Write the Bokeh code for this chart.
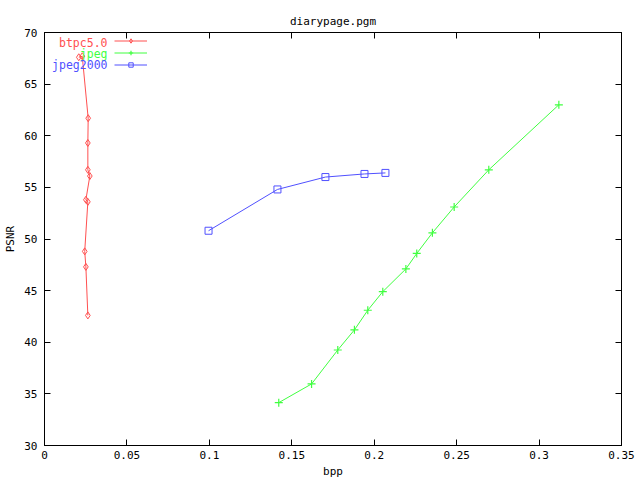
from bokeh.plotting import figure
from bokeh.models import (LinearAxis, FixedTicker, CustomJSTickFormatter, Label,
                          Legend, LegendItem, Range1d)
from bokeh.embed import file_html
from bokeh.resources import INLINE

# ---- data ----
btpc_bpp = [0.0208, 0.0229, 0.0265, 0.0263, 0.0263, 0.0275, 0.0251, 0.0263, 0.0244, 0.0251, 0.0263]
btpc_psnr = [67.6, 67.7, 61.7, 59.3, 56.7, 56.1, 53.8, 53.6, 48.8, 47.3, 42.6]

jpeg_bpp = [0.1421, 0.1620, 0.1779, 0.1880, 0.1961, 0.2052, 0.2192, 0.2258, 0.2353, 0.2485, 0.2695, 0.3120]
jpeg_psnr = [34.15, 35.96, 39.25, 41.2, 43.1, 44.9, 47.1, 48.6, 50.6, 53.1, 56.7, 63.0]

j2k_bpp = [0.0995, 0.1413, 0.1704, 0.1941, 0.2068]
j2k_psnr = [50.8, 54.8, 56.0, 56.3, 56.4]

x_ticks = [0, 0.05, 0.1, 0.15, 0.2, 0.25, 0.3, 0.35]
y_ticks = [30, 35, 40, 45, 50, 55, 60, 65, 70]

series_names = ["btpc5.0", "jpeg", "jpeg2000"]
colors = ["#ff5050", "#40ff40", "#5050ff"]

title_text = "diarypage.pgm"
x_label = "bpp"
y_label = "PSNR"

FONT = "DejaVu Sans Mono"
FS = "11px"

p = figure(width=640, height=480, output_backend="svg", toolbar_location=None,
           x_range=Range1d(0, 0.35), y_range=Range1d(30, 70),
           min_border_left=44, min_border_right=19, min_border_top=32, min_border_bottom=34,
           x_axis_type=None, y_axis_type=None)
p.grid.visible = False
p.outline_line_color = "black"
p.outline_line_width = 1
p.background_fill_color = "white"
p.border_fill_color = "white"

p.title.text = title_text
p.title.align = "center"
p.title.text_font = FONT
p.title.text_font_size = FS
p.title.text_font_style = "normal"
p.title.text_color = "black"
p.title.standoff = 9

fmt = CustomJSTickFormatter(code="return parseFloat(tick.toFixed(4)).toString();")
blank = CustomJSTickFormatter(code="return '';")

def make_axis(ticks, show_labels):
    ax = LinearAxis(ticker=FixedTicker(ticks=ticks), formatter=fmt if show_labels else blank)
    ax.major_tick_in = 6
    ax.major_tick_out = 0
    ax.minor_tick_line_color = None
    ax.axis_line_color = "black"
    ax.major_tick_line_color = "black"
    ax.major_label_text_font = FONT
    ax.major_label_text_font_size = FS
    ax.axis_label_text_font = FONT
    ax.axis_label_text_font_size = FS
    ax.axis_label_text_font_style = "normal"
    ax.axis_label_text_color = "black"
    if show_labels:
        ax.major_label_text_color = "black"
    else:
        ax.major_label_text_color = None
        ax.major_label_standoff = 0
    return ax

xb = make_axis(x_ticks, True)
xb.major_label_standoff = 5
xb.axis_label = x_label
xb.axis_label_standoff = 3
p.add_layout(xb, "below")
yl = make_axis(y_ticks, True)
yl.major_label_standoff = 7
yl.axis_label = y_label
yl.axis_label_standoff = 4
p.add_layout(yl, "left")
p.add_layout(make_axis(x_ticks, False), "above")
p.add_layout(make_axis(y_ticks, False), "right")

# ---- series ----
l1 = p.line(btpc_bpp, btpc_psnr, line_color=colors[0], line_width=1)
m1 = p.scatter(btpc_bpp, btpc_psnr, marker="diamond", size=7, line_color=colors[0],
               fill_color=None, line_width=1)
l2 = p.line(jpeg_bpp, jpeg_psnr, line_color=colors[1], line_width=1)
m2 = p.scatter(jpeg_bpp, jpeg_psnr, marker="cross", size=8, line_color=colors[1], line_width=1.2)
l3 = p.line(j2k_bpp, j2k_psnr, line_color=colors[2], line_width=1)
m3 = p.scatter(j2k_bpp, j2k_psnr, marker="square", size=7, line_color=colors[2],
               fill_color=None, line_width=1)

legend = Legend(items=[LegendItem(label=series_names[0], renderers=[l1, m1]),
                       LegendItem(label=series_names[1], renderers=[l2, m2]),
                       LegendItem(label=series_names[2], renderers=[l3, m3])],
                location=(70, 375), glyph_width=33, glyph_height=11, spacing=0,
                padding=0, margin=0, label_text_color=None, label_text_font_size=FS,
                label_standoff=0, label_width=0, label_height=11,
                background_fill_alpha=0, border_line_alpha=0)
p.add_layout(legend)

# legend texts (gnuplot style: text left of sample, right-aligned)
leg_x = 0.0382
leg_y = [68.94, 67.87, 66.81]
for name, c, yy in zip(series_names, colors, leg_y):
    p.add_layout(Label(x=leg_x, y=yy, text=name, text_align="right", text_baseline="middle",
                       text_font=FONT, text_font_size="11.5px", text_color=c))

open("out.html", "w").write(file_html(p, INLINE))
